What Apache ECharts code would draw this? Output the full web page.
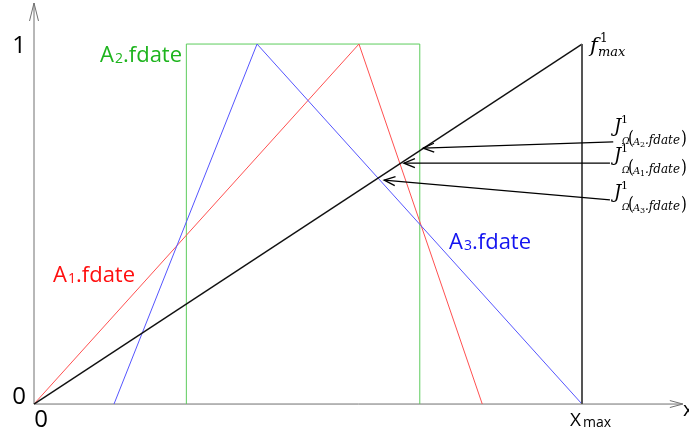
<!DOCTYPE html>
<html><head><meta charset="utf-8">
<script src="https://cdn.jsdelivr.net/npm/echarts@6/dist/echarts.min.js"></script>
<style>html,body{margin:0;padding:0;background:#fff}#c{width:689px;height:434px}</style>
</head><body><div id="c"></div>
<script>
// ---- data (x in units of Xmax, y membership 0..1) ----
const xEnd = 1.184, yEnd = 1.114;           // axis extents (arrow tips)
const fmaxX = [0, 1, 1],            fmaxY = [0, 1, 0];
const a1X = [0, 0.593, 0.818],      a1Y = [0, 1, 0];
const a2X = [0.278, 0.278, 0.704, 0.704], a2Y = [0, 1, 1, 0];
const a3X = [0.146, 0.407, 1.0],    a3Y = [0, 1, 0];
const tailX = [1.057, 1.051, 1.051], tailY = [0.728, 0.669, 0.567];
const tipX  = [0.710, 0.675, 0.639], tipY  = [0.711, 0.669, 0.622];
const subIdx = ['2', '1', '3'];

const pairs = (xs, ys) => xs.map((x, i) => [x, ys[i]]);

const chart = echarts.init(document.getElementById('c'));

function arrowRender(styles) {
  return function (params, api) {
    const st = styles[params.dataIndex];
    const p1 = api.coord([api.value(0), api.value(1)]);
    const p2 = api.coord([api.value(2), api.value(3)]);
    const dx = p2[0] - p1[0], dy = p2[1] - p1[1], L = Math.hypot(dx, dy);
    const ux = dx / L, uy = dy / L;
    const bx = p2[0] - ux * st.len, by = p2[1] - uy * st.len;
    const l = [bx - uy * st.half, by + ux * st.half];
    const r = [bx + uy * st.half, by - ux * st.half];
    return {
      type: 'group', children: [
        { type: 'line', shape: { x1: p1[0], y1: p1[1], x2: p2[0], y2: p2[1] },
          style: { stroke: st.color, lineWidth: st.w } },
        { type: 'polyline', shape: { points: [l, p2, r] },
          style: { stroke: st.color, lineWidth: st.w, fill: null } }
      ]
    };
  };
}

const axisStyles = [
  { len: 13, half: 3.5, color: '#707070', w: 1 },
  { len: 18, half: 4.5, color: '#707070', w: 1 }
];
const annStyles = [0, 1, 2].map(() => ({ len: 11, half: 4.5, color: '#000', w: 1.3 }));

const serif = '"DejaVu Serif", "Liberation Serif", serif';
function t(text, x, y, font, extra) {
  return Object.assign({ type: 'text', x: x, y: y,
    style: { text: text, font: font, fill: '#000', textVerticalAlign: 'top' } }, extra || {});
}
function jLabel(x, y, n) {
  return {
    type: 'group', x: x, y: y, children: [
      t('J', 0, -4, 'italic 18px ' + serif),
      t('1', 7, -7, '11px ' + serif),
      t('Ω', 8, 15, 'italic 9px ' + serif),
      t('(', 14, 10, '15px ' + serif, { scaleY: 1.25, originY: 10 }),
      t('A', 19, 15, 'italic 10px ' + serif),
      t(n, 26, 19, '8px ' + serif),
      t('.fdate', 31, 13, 'italic 12px ' + serif),
      t(')', 67, 10, '15px ' + serif, { scaleY: 1.25, originY: 10 })
    ]
  };
}

const sans = '"Open Sans", sans-serif';
function txt(s, x, y, size, color, align) {
  return { type: 'text', x: x, y: y,
    style: { text: s, font: size + 'px ' + sans, fill: color, textAlign: align || 'left', textVerticalAlign: 'middle' } };
}
function aLabel(n, x, y, color) {
  return { type: 'group', x: x, y: y, children: [
    txt('A', 0, 0, 22, color),
    txt(n, 15, 3, 14, color),
    txt('.fdate', 23, 0, 22, color)
  ]};
}

chart.setOption({
  animation: false,
  grid: { left: 34, top: 3, width: 548 * xEnd, height: 360 * yEnd },
  xAxis: { type: 'value', min: 0, max: xEnd, show: false },
  yAxis: { type: 'value', min: 0, max: yEnd, show: false },
  series: [
    { type: 'custom', renderItem: arrowRender(axisStyles), silent: true,
      data: [[0, 0, xEnd, 0], [0, 0, 0, yEnd]], z: 1 },
    { type: 'line', data: pairs(a2X, a2Y), symbol: 'none', lineStyle: { color: '#5ccc5c', width: 1 }, z: 2 },
    { type: 'line', data: pairs(a1X, a1Y), symbol: 'none', lineStyle: { color: '#ff5050', width: 1 }, z: 3 },
    { type: 'line', data: pairs(a3X, a3Y), symbol: 'none', lineStyle: { color: '#5555ff', width: 1 }, z: 3 },
    { type: 'line', data: pairs(fmaxX.slice(0, 2), fmaxY.slice(0, 2)), symbol: 'none', lineStyle: { color: '#111', width: 1.4 }, z: 4 },
    { type: 'line', data: pairs(fmaxX.slice(1), fmaxY.slice(1)), symbol: 'none', lineStyle: { color: '#555', width: 2 }, z: 4 },
    { type: 'custom', renderItem: arrowRender(annStyles), silent: true, z: 5,
      data: tailX.map((x, i) => [x, tailY[i], tipX[i], tipY[i]]) }
  ],
  graphic: [
    txt('1', 19, 46, 24, '#000', 'center'),
    txt('0', 19, 397, 24, '#000', 'center'),
    txt('0', 41, 420, 24, '#000', 'center'),
    { type: 'group', x: 570, y: 421, children: [
      txt('X', 0, 0, 19, '#000'), txt('max', 13, 2, 14, '#000') ] },
    txt('x', 683, 410, 20, '#000'),
    aLabel('2', 100, 56, '#1db41d'),
    aLabel('1', 53, 276, '#ff0f0f'),
    aLabel('3', 449, 243, '#1414f0'),
    { type: 'group', x: 590, y: 36, children: [
      t('f', 0, 0, 'italic 21px ' + serif),
      t('1', 10, -3, '12px ' + serif),
      t('max', 8, 10, 'italic 13px ' + serif)
    ]},
    jLabel(614, 122, subIdx[0]),
    jLabel(614, 151, subIdx[1]),
    jLabel(614, 188, subIdx[2])
  ]
});
</script></body></html>
